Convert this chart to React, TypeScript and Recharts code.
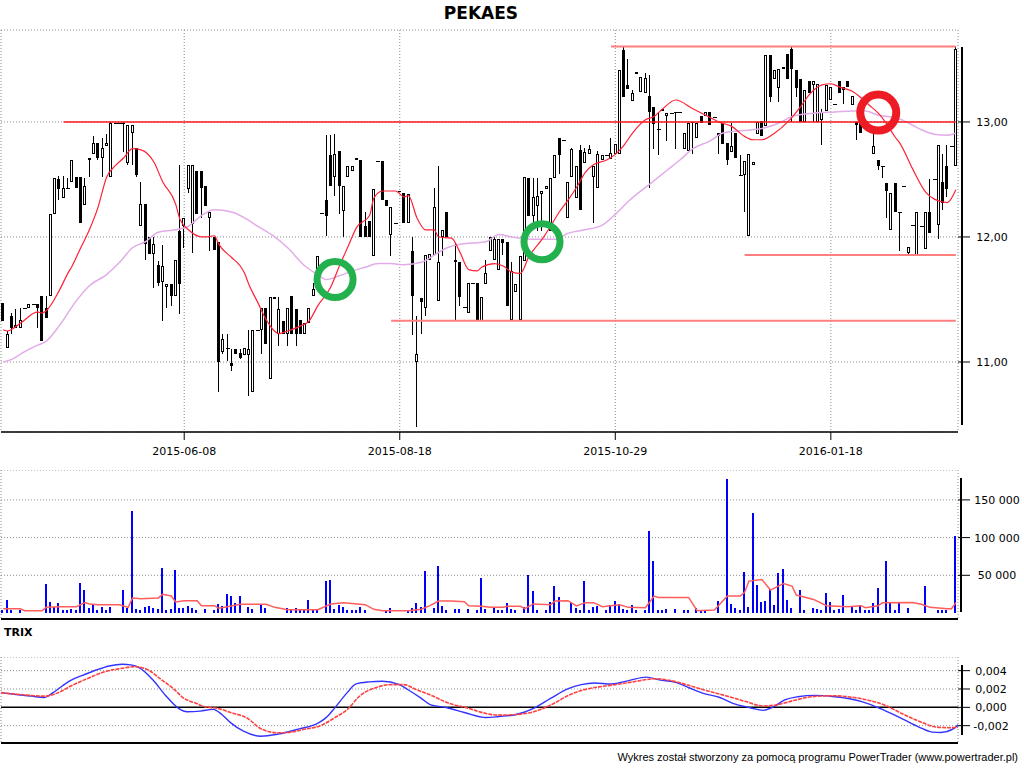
import React from "react";
import {
  ComposedChart,
  Bar,
  Line,
  XAxis,
  YAxis,
  CartesianGrid,
  ReferenceLine,
  ReferenceDot,
} from "recharts";

const FONT = "'DejaVu Sans', Verdana, sans-serif";
const W = 1024;

const tickBars = [42, 92, 142, 192];
const tickDates = ["2015-06-08", "2015-08-18", "2015-10-29", "2016-01-18"];

// one entry per session: [open, high, low, close], null = empty slot
const ohlc: (number[] | null)[] = [
  [11.46, 11.46, 11.32, 11.32], [11.11, 11.24, 11.11, 11.22], [11.36, 11.38, 11.22, 11.26], [11.26, 11.41, 11.26, 11.29],
  [11.26, 11.42, 11.26, 11.33], [11.42, 11.42, 11.42, 11.42], [11.42, 11.45, 11.42, 11.45], [11.45, 11.45, 11.45, 11.45],
  [11.45, 11.45, 11.26, 11.42], [11.52, 11.52, 11.16, 11.16], [11.42, 11.52, 11.34, 11.34], [11.52, 12.19, 11.52, 12.19],
  [12.19, 12.5, 12.19, 12.5], [12.49, 12.52, 12.31, 12.41], [12.33, 12.52, 12.33, 12.42], [12.42, 12.5, 12.42, 12.42],
  [12.47, 12.66, 12.47, 12.66], [12.51, 12.51, 12.42, 12.42], [12.51, 12.51, 12.12, 12.12], [12.27, 12.5, 12.27, 12.43],
  [12.66, 12.68, 12.51, 12.68], [12.71, 12.87, 12.71, 12.81], [12.81, 12.81, 12.66, 12.68], [12.68, 12.86, 12.51, 12.77],
  [12.78, 12.89, 12.78, 12.81], [12.51, 13.0, 12.51, 12.99], [12.99, 12.99, 12.99, 12.99], [12.99, 12.99, 12.99, 12.99],
  [12.99, 13.0, 12.73, 12.98], [12.63, 12.97, 12.62, 12.97], [12.9, 12.97, 12.62, 12.97], [12.77, 12.77, 12.51, 12.53],
  [12.09, 12.47, 12.09, 12.28], [12.28, 12.28, 11.81, 11.94], [12.0, 12.0, 11.86, 11.86], [11.86, 12.0, 11.58, 11.94],
  [11.77, 11.8, 11.6, 11.62], [11.63, 11.93, 11.32, 11.76], [11.59, 11.61, 11.42, 11.61], [11.61, 11.61, 11.44, 11.52],
  [11.52, 11.81, 11.52, 11.81], [12.05, 12.62, 11.37, 11.61], [12.09, 12.16, 11.91, 12.16], [12.41, 12.62, 12.37, 12.62],
  [12.11, 12.62, 11.87, 12.62], [12.56, 12.56, 12.19, 12.19], [12.56, 12.56, 12.16, 12.42], [12.43, 12.43, 12.26, 12.26],
  [12.16, 12.21, 11.88, 12.21], [12.0, 12.0, 11.89, 11.89], [11.96, 11.96, 10.77, 11.0], [11.08, 11.22, 11.06, 11.18],
  [11.11, 11.22, 11.01, 11.11], [10.99, 11.1, 10.93, 10.97], [11.1, 11.1, 11.06, 11.06], [11.07, 11.1, 11.02, 11.03],
  [11.05, 11.11, 11.05, 11.11], [11.05, 11.25, 10.74, 11.1], [10.77, 11.25, 10.77, 11.25], [11.25, 11.25, 11.25, 11.25],
  [11.25, 11.42, 11.06, 11.42], [11.42, 11.42, 11.14, 11.14], [10.87, 11.51, 10.87, 11.51], [11.51, 11.51, 11.49, 11.49],
  [11.22, 11.51, 11.12, 11.41], [11.32, 11.32, 11.22, 11.22], [11.22, 11.42, 11.12, 11.42], [11.52, 11.52, 11.22, 11.22],
  [11.41, 11.41, 11.12, 11.22], [11.33, 11.33, 11.22, 11.22], [11.22, 11.3, 11.22, 11.3], [11.3, 11.42, 11.3, 11.42],
  [11.52, 11.62, 11.52, 11.57], [11.65, 11.84, 11.62, 11.84], [12.2, 12.2, 12.2, 12.2], [12.31, 12.88, 12.01, 12.18],
  [12.7, 12.88, 12.43, 12.43], [12.51, 12.89, 12.35, 12.71], [12.74, 12.74, 12.19, 12.43], [12.22, 12.43, 12.0, 12.43],
  [12.51, 12.61, 12.51, 12.61], [12.56, 12.61, 12.56, 12.61], [12.68, 12.68, 12.66, 12.66], [12.66, 12.66, 12.0, 12.0],
  [12.09, 12.21, 12.0, 12.0], [12.13, 12.13, 12.0, 12.0], [11.84, 12.41, 11.84, 12.41], [12.65, 12.65, 12.65, 12.65],
  [12.65, 12.65, 12.31, 12.31], [12.31, 12.31, 12.26, 12.26], [12.02, 12.25, 11.84, 12.25], [12.12, 12.12, 12.12, 12.12],
  [12.39, 12.39, 12.38, 12.38], [12.37, 12.37, 12.12, 12.12], [12.12, 12.36, 12.12, 12.36], [11.88, 12.0, 11.21, 11.52],
  [11.0, 11.36, 10.51, 11.06], [11.5, 11.5, 11.22, 11.47], [11.42, 11.85, 11.36, 11.85], [11.81, 11.86, 11.81, 11.86],
  [11.85, 12.42, 11.85, 12.25], [11.48, 12.61, 11.48, 11.79], [12.0, 12.06, 11.84, 12.06], [12.21, 12.21, 12.0, 12.0],
  null, [11.81, 11.95, 11.32, 11.79], [11.79, 11.79, 11.44, 11.51], [11.43, 11.43, 11.43, 11.43],
  [11.38, 11.62, 11.38, 11.62], [11.62, 11.62, 11.62, 11.62], [11.62, 11.62, 11.32, 11.32], [11.32, 11.51, 11.32, 11.51],
  [11.61, 11.81, 11.61, 11.7], [11.88, 12.0, 11.88, 12.0], [11.81, 12.0, 11.81, 11.98], [11.73, 11.98, 11.73, 11.98],
  [11.98, 11.98, 11.85, 11.95], [11.96, 11.96, 11.44, 11.44], [11.33, 11.79, 11.33, 11.72], [11.55, 11.61, 11.55, 11.61],
  [11.33, 11.84, 11.33, 11.84], [11.8, 12.51, 11.8, 12.51], [12.5, 12.5, 12.18, 12.18], [12.18, 12.5, 12.09, 12.34],
  [12.26, 12.5, 12.05, 12.35], [12.36, 12.39, 12.05, 12.39], [12.41, 12.43, 12.41, 12.43], [12.05, 12.5, 12.05, 12.5],
  [12.5, 12.7, 12.5, 12.7], [12.86, 12.86, 12.54, 12.7], [12.84, 12.84, 12.84, 12.84], [12.16, 12.47, 12.16, 12.47],
  [12.51, 12.77, 12.51, 12.76], [12.33, 12.61, 12.33, 12.61], [12.75, 12.79, 12.23, 12.23], [12.63, 12.77, 12.63, 12.73],
  [12.71, 12.79, 12.71, 12.76], [12.51, 12.61, 12.12, 12.61], [12.42, 12.74, 12.42, 12.71], [12.66, 12.7, 12.66, 12.7],
  [12.7, 12.7, 12.7, 12.7], [12.67, 12.86, 12.67, 12.72], [12.71, 12.8, 12.71, 12.8], [12.71, 13.48, 12.71, 13.48],
  [13.67, 13.7, 13.23, 13.23], [13.34, 13.58, 13.3, 13.3], [13.19, 13.29, 13.19, 13.26], [13.46, 13.46, 13.44, 13.44],
  [13.27, 13.41, 13.27, 13.41], [13.26, 13.45, 13.26, 13.4], [13.24, 13.43, 12.42, 13.09], [13.14, 13.14, 12.76, 12.98],
  [12.94, 13.09, 12.7, 12.94], [13.12, 13.12, 13.1, 13.1], [13.05, 13.08, 12.83, 13.08], [13.08, 13.08, 13.08, 13.08],
  [13.09, 13.09, 12.76, 13.09], [13.09, 13.09, 13.09, 13.09], [12.76, 12.9, 12.76, 12.9], [12.74, 12.99, 12.74, 12.99],
  [13.0, 13.0, 12.71, 12.99], [12.86, 12.99, 12.86, 12.99], [13.05, 13.05, 12.99, 12.99], [13.05, 13.09, 13.05, 13.09],
  [13.09, 13.09, 12.97, 12.97], [13.04, 13.04, 13.04, 13.04], [12.9, 12.9, 12.71, 12.87], [12.99, 12.99, 12.8, 12.8],
  [12.81, 12.81, 12.62, 12.66], [12.73, 12.99, 12.73, 12.78], [12.9, 12.9, 12.68, 12.68], [12.53, 12.7, 12.53, 12.53],
  [12.53, 12.65, 12.21, 12.65], [12.01, 12.71, 12.01, 12.71], [12.62, 12.64, 12.62, 12.64], [12.89, 13.0, 12.89, 13.0],
  [13.01, 13.01, 12.87, 12.87], [12.96, 13.62, 12.96, 13.62], [13.62, 13.62, 13.18, 13.23], [13.39, 13.48, 13.39, 13.48],
  [13.31, 13.49, 13.18, 13.49], [13.49, 13.51, 13.49, 13.51], [13.63, 13.63, 13.39, 13.39], [13.68, 13.7, 13.0, 13.49],
  [13.48, 13.48, 13.23, 13.31], [13.39, 13.39, 13.0, 13.0], [13.0, 13.29, 13.0, 13.29], [13.38, 13.38, 13.26, 13.26],
  [13.34, 13.38, 13.0, 13.38], [13.0, 13.35, 13.0, 13.35], [13.02, 13.12, 12.79, 13.09], [13.1, 13.34, 13.1, 13.34],
  [13.2, 13.32, 13.2, 13.32], [13.16, 13.16, 13.16, 13.16], [13.38, 13.38, 13.26, 13.26], [13.32, 13.32, 13.16, 13.29],
  [13.38, 13.38, 13.32, 13.32], [13.15, 13.24, 13.15, 13.24], [13.0, 13.0, 12.84, 12.97], [12.99, 12.99, 12.9, 12.9],
  [13.01, 13.01, 13.01, 13.01], [12.94, 12.94, 12.94, 12.94], [12.71, 12.89, 12.71, 12.78], [12.66, 12.66, 12.57, 12.61],
  [12.61, 12.61, 12.5, 12.61], [12.46, 12.46, 12.16, 12.39], [12.06, 12.37, 12.06, 12.37], [12.46, 12.46, 12.21, 12.21],
  [12.21, 12.21, 11.88, 12.21], [12.43, 12.43, 12.43, 12.43], [11.87, 11.92, 11.85, 11.92], [12.1, 12.1, 12.1, 12.1],
  [11.85, 12.21, 11.85, 12.21], [12.09, 12.09, 12.09, 12.09], [11.9, 12.21, 11.9, 12.21], [12.21, 12.49, 12.03, 12.03],
  [12.49, 12.49, 12.49, 12.49], [12.1, 12.79, 11.98, 12.79], [12.47, 12.71, 12.23, 12.29], [12.61, 12.79, 12.34, 12.41],
  [12.78, 12.78, 12.78, 12.78], [12.61, 13.7, 12.61, 13.68],
];

const volume = [
  4400, 17200, 4000, 0, 4000, 0, 0, 0, 0, 0,
  38400, 14600, 8000, 13000, 4000, 4000, 5300, 4000, 39700, 30400,
  6600, 11000, 4000, 8000, 4000, 8000, 0, 0, 30400, 6600,
  135000, 4900, 4000, 8000, 9300, 6600, 5300, 59500, 4000, 5300,
  57000, 6600, 6600, 9300, 6600, 4000, 0, 5300, 0, 4000,
  12000, 9300, 25000, 22500, 13000, 22500, 0, 8000, 5300, 0,
  10600, 6600, 0, 0, 0, 0, 6600, 5300, 6600, 5300,
  4000, 17200, 4000, 4000, 0, 42300, 43700, 5300, 10600, 8000,
  4000, 4000, 4000, 8000, 4000, 0, 0, 0, 0, 4000,
  6600, 0, 0, 0, 4000, 6600, 13000, 8000, 55600, 0,
  6600, 62000, 9300, 4000, 0, 5300, 5300, 0, 5300, 0,
  4000, 46300, 5300, 0, 6600, 4000, 4000, 13000, 5300, 4000,
  0, 8000, 50000, 29000, 4000, 0, 4000, 14600, 35700, 21000,
  0, 0, 13000, 6600, 4000, 42300, 4000, 8000, 9300, 0,
  4000, 10600, 15900, 12000, 5300, 4000, 10600, 4000, 0, 4000,
  108500, 68800, 4000, 4000, 5300, 0, 5300, 0, 4000, 4000,
  0, 6600, 4000, 4000, 0, 0, 15900, 0, 178000, 12000,
  6600, 4000, 54000, 8000, 132000, 37000, 14600, 15900, 31800, 10600,
  52500, 58000, 17200, 6600, 0, 30400, 4000, 0, 6600, 5300,
  4000, 26500, 14600, 4000, 5300, 23800, 0, 8000, 4000, 10600,
  4000, 4000, 13000, 33000, 0, 68800, 13000, 4000, 13000, 0,
  6600, 0, 0, 0, 35700, 0, 0, 4000, 4000, 4000,
  0, 102000,
];

// [session index, value] read at intervals along each indicator line
const maFast = [
  [0, 11.25], [1, 11.24], [4, 11.3], [8, 11.39], [9, 11.38], [10, 11.4], [13, 11.56], [15, 11.7], [16, 11.76],
  [18, 11.91], [20, 12.06], [22, 12.25], [24, 12.51], [26, 12.61], [28, 12.68], [30, 12.76], [32, 12.75],
  [35, 12.64], [37, 12.47], [40, 12.28], [41, 12.15], [43, 12.06], [46, 12.0], [47, 12.0], [49, 12.01],
  [50, 11.94], [53, 11.83], [55, 11.76], [56, 11.7], [57, 11.61], [59, 11.47], [61, 11.33], [64, 11.22],
  [66, 11.24], [69, 11.28], [71, 11.32], [73, 11.44], [76, 11.59], [78, 11.76], [80, 11.92], [82, 12.08],
  [85, 12.18], [86, 12.33], [88, 12.39], [91, 12.39], [93, 12.34], [94, 12.35], [96, 12.16], [98, 12.06],
  [100, 12.06], [101, 12.0], [104, 11.99], [106, 11.87], [108, 11.73], [110, 11.72], [111, 11.75], [114, 11.78],
  [116, 11.76], [118, 11.71], [120, 11.7], [122, 11.84], [125, 11.98], [127, 12.09], [129, 12.21], [131, 12.31],
  [133, 12.42], [135, 12.55], [137, 12.62], [140, 12.66], [142, 12.71], [144, 12.79], [146, 12.9], [149, 13.02],
  [151, 13.05], [153, 13.12], [156, 13.2], [160, 13.12], [164, 13.04], [166, 13.0], [169, 12.96], [172, 12.87],
  [174, 12.84], [176, 12.84], [179, 12.9], [182, 13.0], [185, 13.14], [187, 13.25], [190, 13.34], [192, 13.35],
  [194, 13.32], [197, 13.28], [199, 13.22], [201, 13.15], [203, 13.08], [205, 12.98], [207, 12.86], [208, 12.81],
  [211, 12.58], [214, 12.38], [216, 12.32], [219, 12.29], [221, 12.4],
];

const maSlow = [
  [0, 11.0], [2, 11.02], [5, 11.08], [8, 11.13], [10, 11.16], [13, 11.28], [17, 11.48], [20, 11.6], [24, 11.69],
  [27, 11.79], [30, 11.91], [33, 11.96], [36, 12.04], [40, 12.06], [43, 12.09], [46, 12.18], [49, 12.23],
  [53, 12.21], [56, 12.16], [59, 12.09], [63, 12.0], [66, 11.91], [70, 11.76], [73, 11.69], [75, 11.65],
  [78, 11.68], [81, 11.72], [84, 11.75], [87, 11.78], [90, 11.78], [93, 11.77], [97, 11.79], [100, 11.85],
  [103, 11.91], [106, 11.94], [109, 11.95], [112, 11.96], [115, 12.02], [118, 12.0], [123, 11.98], [128, 11.98],
  [131, 12.03], [135, 12.06], [139, 12.1], [142, 12.19], [145, 12.3], [150, 12.45], [154, 12.57], [157, 12.66],
  [160, 12.76], [164, 12.83], [167, 12.9], [171, 12.92], [176, 12.94], [180, 12.99], [183, 13.05], [188, 13.08],
  [193, 13.09], [197, 13.1], [200, 13.1], [203, 13.06], [207, 13.04], [210, 12.99], [213, 12.93], [216, 12.89],
  [219, 12.88], [221, 12.9],
];

const volAvg = [
  [0, 5700], [4, 5700], [5, 3000], [9, 3000], [10, 7500], [13, 8400], [17, 8400], [19, 14000], [20, 12000],
  [22, 11000], [27, 11000], [29, 7500], [30, 20000], [32, 19000], [36, 20000], [37, 24700], [39, 22500],
  [40, 14600], [42, 16300], [45, 16300], [46, 9700], [49, 9700], [50, 6200], [52, 8400], [55, 11500],
  [61, 11500], [63, 7500], [66, 4400], [73, 4400], [76, 12000], [79, 13700], [84, 11000], [86, 4900],
  [88, 3000], [94, 3000], [97, 4900], [99, 9700], [101, 15900], [104, 15900], [107, 15000], [108, 9700],
  [111, 8800], [113, 7500], [116, 7500], [117, 8800], [120, 8800], [121, 5700], [123, 12000], [127, 11000],
  [128, 15900], [131, 16300], [133, 9300], [135, 13700], [137, 13700], [139, 8400], [143, 11000], [145, 7500],
  [149, 7000], [151, 22500], [152, 20700], [159, 20700], [161, 3000], [165, 4000], [168, 22500], [171, 22500],
  [172, 27300], [173, 42300], [176, 44500], [178, 30400], [181, 39000], [183, 35700], [184, 23800], [188, 18000],
  [191, 9700], [196, 8400], [199, 9700], [200, 7000], [203, 9700], [204, 13700], [211, 14000], [213, 11500],
  [215, 7500], [219, 5700], [220, 5700], [221, 13700],
];

const trixLine = [
  [0, 0.0016], [4, 0.00137], [7, 0.00122], [10, 0.00107], [12, 0.0016], [16, 0.00292], [19, 0.00352],
  [22, 0.00407], [25, 0.00451], [28, 0.0047], [30, 0.00463], [32, 0.0043], [35, 0.00303], [38, 0.0013],
  [41, -0.00011], [43, -0.00048], [46, -0.00041], [49, -0.00022], [51, -0.00078], [53, -0.00167], [56, -0.0026],
  [60, -0.00315], [64, -0.00292], [69, -0.00233], [73, -0.00178], [75, -0.00115], [77, -0.00011], [80, 0.00163],
  [82, 0.00255], [85, 0.00278], [88, 0.00285], [92, 0.00248], [94, 0.00192], [97, 0.001], [99, 0.00033],
  [103, -0.00004], [107, -0.00056], [112, -0.00111], [115, -0.001], [119, -0.00078], [123, -0.00011],
  [127, 0.001], [131, 0.00204], [134, 0.00248], [137, 0.00266], [141, 0.00255], [145, 0.00292], [149, 0.00329],
  [152, 0.003], [156, 0.0027], [159, 0.00211], [162, 0.00155], [166, 0.00107], [169, 0.00044], [173, -0.00004],
  [176, -0.00033], [178, -0.00004], [181, 0.00081], [184, 0.00115], [188, 0.0013], [192, 0.00118], [196, 0.00093],
  [200, 0.00044], [204, -0.00033], [208, -0.00122], [212, -0.00215], [215, -0.0027], [217, -0.00274],
  [220, -0.00233], [221, -0.00189],
];

const trixSignal = [
  [0, 0.0016], [5, 0.00137], [10, 0.00122], [13, 0.00155], [16, 0.00229], [20, 0.00315], [24, 0.00389],
  [28, 0.00426], [31, 0.00444], [34, 0.00407], [37, 0.00303], [40, 0.00196], [42, 0.00107], [45, 0.00044],
  [47, 0.00007], [50, -0.00011], [53, -0.00056], [57, -0.00122], [60, -0.00233], [64, -0.00278], [67, -0.0027],
  [70, -0.0024], [74, -0.00196], [77, -0.00115], [80, -0.00022], [83, 0.0013], [87, 0.00222], [90, 0.00248],
  [93, 0.00248], [96, 0.00192], [100, 0.00118], [103, 0.00052], [108, -0.00011], [112, -0.00067], [115, -0.00085],
  [119, -0.00078], [123, -0.00048], [127, 0.00026], [131, 0.0013], [135, 0.00196], [139, 0.00229], [142, 0.00248],
  [146, 0.00278], [151, 0.00311], [156, 0.00278], [159, 0.00237], [163, 0.00181], [168, 0.00118], [172, 0.00063],
  [176, 0.00015], [179, 0.00026], [183, 0.00074], [187, 0.00115], [192, 0.00126], [197, 0.00107], [200, 0.00081],
  [204, 0.00026], [208, -0.00067], [212, -0.00152], [216, -0.00215], [219, -0.00222], [221, -0.00218],
];

const priceTicks = [11, 12, 13];
const volumeTicks = [50000, 100000, 150000];
const trixTicks = [-0.002, 0, 0.002, 0.004];

const toMap = (pairs: number[][]) => new Map(pairs.map(([k, v]) => [k, v]));
const fastMap = toMap(maFast);
const slowMap = toMap(maSlow);
const vavgMap = toMap(volAvg);
const trixMap = toMap(trixLine);
const sigMap = toMap(trixSignal);

const rows = ohlc.map((c, i) => ({
  i,
  o: c ? c[0] : null,
  h: c ? c[1] : null,
  l: c ? c[2] : null,
  cl: c ? c[3] : null,
  range: c ? [c[2], c[1] > c[2] ? c[1] : c[1] + 0.0005] : null,
  v: volume[i] > 0 ? volume[i] : null,
  fast: fastMap.get(i) ?? null,
  slow: slowMap.get(i) ?? null,
  vavg: vavgMap.get(i) ?? null,
  trix: trixMap.get(i) ?? null,
  sig: sigMap.get(i) ?? null,
}));

const fmtPrice = (v: number) => v.toFixed(2).replace(".", ",");
const fmtVol = (v: number) => String(v).replace(/\B(?=(\d{3})+(?!\d))/g, " ");
const fmtTrix = (v: number) => v.toFixed(3).replace(".", ",");
const dateLabel = (v: number) => tickDates[tickBars.indexOf(v)] ?? "";

function RightTick(props: any) {
  const { y, payload, cx, fmt } = props;
  return (
    <text x={cx} y={y} dy={4} textAnchor="middle" fontSize={11} fontFamily={FONT} fill="#000">
      {fmt(payload.value)}
    </text>
  );
}

function Candle(props: any) {
  const { x, y, width, height, payload } = props;
  if (!payload || payload.o == null || !isFinite(y) || !isFinite(height)) return null;
  const { o, h, l, cl } = payload;
  const lh = Math.log(h);
  const span = lh - Math.log(l);
  const py = (p: number) => (span > 0 && h !== l ? y + (height * (lh - Math.log(p))) / span : y);
  const cx = Math.floor(x + width / 2);
  const top = Math.round(py(Math.max(o, cl)));
  const bot = Math.round(py(Math.min(o, cl)));
  const yTop = Math.round(y);
  const yBot = Math.round(y + height);
  return (
    <g>
      {h !== l && <rect x={cx} y={yTop} width={1} height={Math.max(1, yBot - yTop)} fill="#000" />}
      {cl > o && (
        <rect x={cx - 0.5} y={top + 0.5} width={2} height={Math.max(1, bot - top - 1)} fill="#fff" stroke="#000" strokeWidth={1} />
      )}
      {cl < o && <rect x={cx - 1} y={top} width={3} height={Math.max(1, bot - top)} fill="#000" />}
      {cl === o && <rect x={cx - 1} y={top} width={4} height={1} fill="#000" />}
    </g>
  );
}

function VolBar(props: any) {
  const { x, y, width, height } = props;
  if (!isFinite(y) || !height || height <= 0) return null;
  const cx = Math.floor(x + width / 2);
  const t = Math.round(y);
  return <rect x={cx - 1} y={t} width={2} height={Math.round(y + height) - t} fill="#0000ff" />;
}

const grid = { stroke: "#8c8c8c", strokeDasharray: "1 2" };
const spine = (left: number, top: number, h: number): React.CSSProperties => ({
  position: "absolute",
  left,
  top,
  width: 2,
  height: h,
  background: "#000",
});

export default function App() {
  return (
    <div style={{ position: "absolute", left: 0, top: 0, width: W, height: 768, background: "#fff", overflow: "hidden" }}>
      <div
        style={{
          position: "absolute",
          left: 0,
          top: 3,
          width: 962,
          textAlign: "center",
          fontFamily: FONT,
          fontWeight: "bold",
          fontSize: 17,
          lineHeight: "20px",
        }}
      >
        PEKAES
      </div>

      <div style={{ position: "absolute", left: 0, top: 0 }}>
        <ComposedChart width={W} height={460} data={rows} margin={{ top: 30, right: 0, bottom: 0, left: 1 }}>
          <CartesianGrid {...grid} />
          <XAxis
            dataKey="i"
            type="category"
            ticks={tickBars}
            interval={0}
            tickFormatter={dateLabel}
            tickSize={8}
            tickMargin={7}
            height={28}
            axisLine={{ stroke: "#000", strokeWidth: 1.5 }}
            tickLine={{ stroke: "#000" }}
            tick={{ fill: "#000", fontSize: 11, fontFamily: FONT }}
          />
          <YAxis
            orientation="right"
            scale="log"
            domain={[10.477, 13.859]}
            allowDataOverflow
            ticks={priceTicks}
            interval={0}
            width={66}
            tickSize={12}
            axisLine={false}
            tickLine={{ stroke: "#000" }}
            tick={<RightTick cx={992} fmt={fmtPrice} />}
          />
          <Bar dataKey="range" shape={<Candle />} isAnimationActive={false} />
          <Line dataKey="slow" type="monotone" stroke="#e2ace8" strokeWidth={1.5} dot={false} connectNulls isAnimationActive={false} />
          <Line dataKey="fast" type="monotone" stroke="#ff2236" strokeWidth={1.2} dot={false} connectNulls isAnimationActive={false} />
          <ReferenceLine segment={[{ x: 14, y: 13 }, { x: 221, y: 13 }]} stroke="#ff1a1a" strokeWidth={1.5} />
          <ReferenceLine segment={[{ x: 141, y: 13.7 }, { x: 221, y: 13.7 }]} stroke="#ff7f7f" strokeWidth={2} />
          <ReferenceLine segment={[{ x: 90, y: 11.32 }, { x: 221, y: 11.32 }]} stroke="#ff7f7f" strokeWidth={2} />
          <ReferenceLine segment={[{ x: 172, y: 11.85 }, { x: 221, y: 11.85 }]} stroke="#ff7f7f" strokeWidth={2} />
          <ReferenceDot x={77} y={11.65} r={18} fill="none" stroke="#22b14c" strokeWidth={7} />
          <ReferenceDot x={125} y={11.96} r={18} fill="none" stroke="#22b14c" strokeWidth={7} />
          <ReferenceDot x={203} y={13.085} r={18} fill="none" stroke="#ed1c24" strokeWidth={8} />
        </ComposedChart>
      </div>
      <div style={spine(961, 47, 378)} />

      <div style={{ position: "absolute", left: 0, top: 470 }}>
        <ComposedChart width={W} height={150} data={rows} margin={{ top: 0, right: 0, bottom: 0, left: 1 }}>
          <CartesianGrid {...grid} />
          <XAxis
            dataKey="i"
            type="category"
            ticks={tickBars}
            interval={0}
            tick={false}
            tickLine={false}
            height={1}
            axisLine={{ stroke: "#000", strokeWidth: 2 }}
          />
          <YAxis
            orientation="right"
            domain={[-7958, 189655]}
            allowDataOverflow
            ticks={volumeTicks}
            interval={0}
            width={66}
            tickSize={12}
            axisLine={false}
            tickLine={{ stroke: "#000" }}
            tick={<RightTick cx={997} fmt={fmtVol} />}
          />
          <Bar dataKey="v" shape={<VolBar />} isAnimationActive={false} />
          <Line dataKey="vavg" type="linear" stroke="#ff5c5c" strokeWidth={1.5} dot={false} connectNulls isAnimationActive={false} />
        </ComposedChart>
      </div>
      <div style={spine(960, 478, 134)} />

      <div
        style={{
          position: "absolute",
          left: 4,
          top: 626,
          fontFamily: FONT,
          fontWeight: "bold",
          fontSize: 11,
          lineHeight: "13px",
        }}
      >
        TRIX
      </div>

      <div style={{ position: "absolute", left: 0, top: 657 }}>
        <ComposedChart width={W} height={87} data={rows} margin={{ top: 0, right: 0, bottom: 0, left: 1 }}>
          <CartesianGrid {...grid} />
          <XAxis
            dataKey="i"
            type="category"
            ticks={tickBars}
            interval={0}
            tick={false}
            tickLine={false}
            height={1}
            axisLine={{ stroke: "#000", strokeWidth: 2 }}
          />
          <YAxis
            orientation="right"
            domain={[-0.00389, 0.00549]}
            allowDataOverflow
            ticks={trixTicks}
            interval={0}
            width={66}
            tickSize={12}
            axisLine={false}
            tickLine={{ stroke: "#000" }}
            tick={<RightTick cx={991} fmt={fmtTrix} />}
          />
          <ReferenceLine y={0} stroke="#000" strokeWidth={1.5} />
          <Line dataKey="trix" type="monotone" stroke="#3333ff" strokeWidth={1.4} dot={false} connectNulls isAnimationActive={false} />
          <Line dataKey="sig" type="monotone" stroke="#ff4040" strokeWidth={1.6} strokeDasharray="4 1" dot={false} connectNulls isAnimationActive={false} />
        </ComposedChart>
      </div>
      <div style={spine(961, 665, 70)} />

      <div
        style={{
          position: "absolute",
          right: 6,
          top: 751,
          fontFamily: "'Liberation Sans', Arial, sans-serif",
          fontSize: 11,
          lineHeight: "13px",
          color: "#000",
        }}
      >
        Wykres został stworzony za pomocą programu PowerTrader (www.powertrader.pl)
      </div>
    </div>
  );
}
